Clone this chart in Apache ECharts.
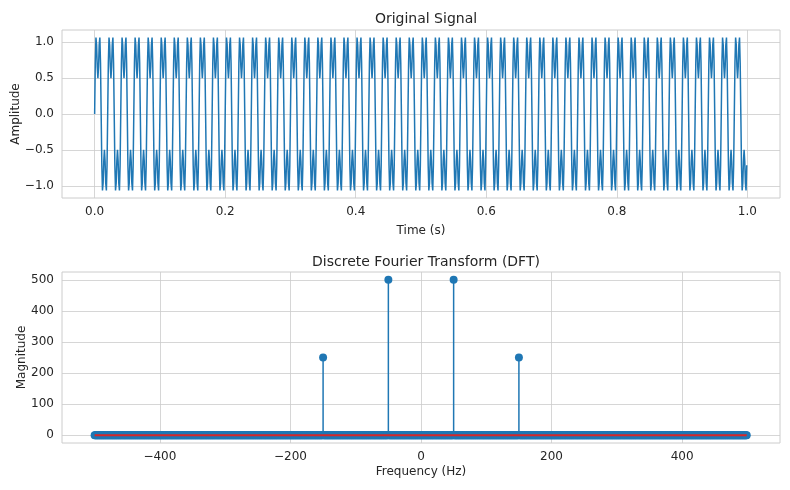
<!DOCTYPE html>
<html><head><meta charset="utf-8">
<script src="https://cdn.jsdelivr.net/npm/echarts@6/dist/echarts.min.js"></script>
<style>html,body{margin:0;padding:0;background:#fff}#c{width:790px;height:490px}</style>
</head><body><div id="c"></div>
<script>
// One period (20 samples at 1000 Hz) of the signal; it repeats 50 times over 1 s
const periodValues = [0, 0.714, 1.064, 0.964, 0.657, 0.5, 0.657, 0.964, 1.064, 0.714,
  0, -0.714, -1.064, -0.964, -0.657, -0.5, -0.657, -0.964, -1.064, -0.714];
const sampleRate = 1000;
const repeats = 50;
// DFT peaks (frequency Hz, magnitude)
const peakFreqs = [-150, -50, 50, 150];
const peakMags = [250, 500, 500, 250];
const topXTicks = [0, 0.2, 0.4, 0.6, 0.8, 1.0];
const topYTicks = [-1, -0.5, 0, 0.5, 1];
const botXTicks = [-400, -200, 0, 200, 400];
const botYTicks = [0, 100, 200, 300, 400, 500];

const signal = [];
for (let r = 0; r < repeats; r++) periodValues.forEach((v, i) => signal.push([(r * periodValues.length + i) / sampleRate, v]));
const freqs = [];
for (let k = -sampleRate / 2; k < sampleRate / 2; k++) freqs.push(k);
const mags = freqs.map(f => { const j = peakFreqs.indexOf(f); return [f, j >= 0 ? peakMags[j] : 0]; });
const stems = [];
peakFreqs.forEach((f, j) => { stems.push([f, 0], [f, peakMags[j]], '-'); });

const minus = s => String(s).replace('-', '\u2212');
const lab = {color: '#262626', fontSize: 12, fontFamily: 'DejaVu Sans'};
const grid = {show: true, borderColor: '#cccccc', borderWidth: 1, containLabel: false, outerBoundsMode: 'none'};
const split = {show: true, lineStyle: {color: '#cccccc', width: 0.8}};
function ax(extra, ticks, fmt) {
  return Object.assign({type: 'value', axisLine: {show: false}, nameMoveOverlap: false,
    axisTick: {show: false, customValues: ticks},
    axisLabel: Object.assign({customValues: ticks, formatter: v => minus(fmt(v))}, lab),
    splitLine: split, nameTextStyle: lab}, extra);
}
const tstyle = {fontSize: 14, fontWeight: 'normal', color: '#262626', fontFamily: 'DejaVu Sans'};
const chart = echarts.init(document.getElementById('c'), null, {renderer: 'canvas'});
chart.setOption({
  animation: false,
  title: [
    {text: 'Original Signal', left: 421, top: 7, textAlign: 'center', textStyle: tstyle},
    {text: 'Discrete Fourier Transform (DFT)', left: 421, top: 250, textAlign: 'center', textStyle: tstyle}
  ],
  grid: [
    Object.assign({left: 62, right: 10, top: 30, height: 168}, grid),
    Object.assign({left: 62, right: 10, top: 272, height: 171}, grid)
  ],
  xAxis: [
    ax({gridIndex: 0, min: -0.05, max: 1.05, name: 'Time (s)', nameLocation: 'middle', nameGap: 27}, topXTicks, v => v.toFixed(1)),
    ax({gridIndex: 1, min: -550, max: 550, name: 'Frequency (Hz)', nameLocation: 'middle', nameGap: 23}, botXTicks, v => String(v))
  ],
  yAxis: [
    ax({gridIndex: 0, min: -1.17, max: 1.17, name: 'Amplitude', nameLocation: 'middle', nameGap: 40}, topYTicks, v => v.toFixed(1)),
    ax({gridIndex: 1, min: -25, max: 525, name: 'Magnitude', nameLocation: 'middle', nameGap: 34}, botYTicks, v => String(v))
  ],
  series: [
    {type: 'line', xAxisIndex: 0, yAxisIndex: 0, data: signal, showSymbol: false, lineStyle: {color: '#1f77b4', width: 1.5}},
    {type: 'line', xAxisIndex: 1, yAxisIndex: 1, data: stems, showSymbol: false, connectNulls: false, lineStyle: {color: '#1f77b4', width: 1.5}, z: 2},
    {type: 'scatter', xAxisIndex: 1, yAxisIndex: 1, data: mags, symbolSize: 8, itemStyle: {color: '#1f77b4', opacity: 1}, z: 3},
    {type: 'line', xAxisIndex: 1, yAxisIndex: 1, data: [[-500, 0], [499, 0]], showSymbol: false, lineStyle: {color: '#d62728', width: 2}, z: 4}
  ]
});
</script></body></html>
